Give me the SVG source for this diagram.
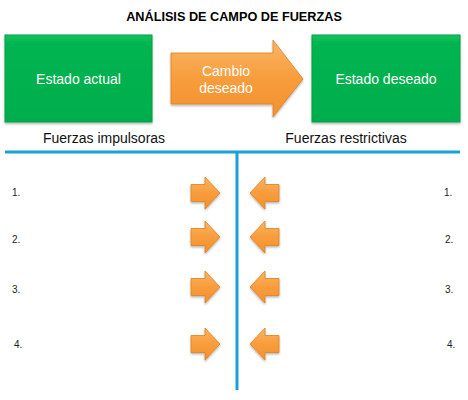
<svg xmlns="http://www.w3.org/2000/svg" width="468" height="400" viewBox="0 0 468 400">
<defs>
<style>
.t{font-family:"Liberation Sans",Arial,sans-serif}
.title{font-size:12.7px;font-weight:bold;fill:#000}
.box{fill:url(#g);stroke:#00a044;stroke-width:1}
.wt{font-size:14px;fill:#fff}
.lbl{font-size:14px;fill:#111}
.num{font-size:10px;fill:#222}
.ora{fill:url(#o);stroke:#e0801f;stroke-width:0.8}
.line{stroke:#1aa0d8;stroke-width:3;fill:none}
</style>
<linearGradient id="g" x1="0" y1="0" x2="0" y2="1">
<stop offset="0" stop-color="#14c45e"/>
<stop offset="0.1" stop-color="#00b550"/>
<stop offset="1" stop-color="#00ad4c"/>
</linearGradient>
<linearGradient id="o" x1="0" y1="0" x2="0" y2="1">
<stop offset="0" stop-color="#fbb565"/>
<stop offset="0.5" stop-color="#f89d3c"/>
<stop offset="1" stop-color="#f2902e"/>
</linearGradient>
<filter id="sh" x="-10%" y="-10%" width="120%" height="130%">
<feDropShadow dx="0" dy="1.5" stdDeviation="1.2" flood-color="#000" flood-opacity="0.3"/>
</filter>
<path id="sa" d="M-14,-8.5 H0 V-16 L15,0 L0,16 V8.5 H-14 Z"/>
</defs>
<rect width="468" height="400" fill="#fff"/>
<text class="t title" x="234" y="21" text-anchor="middle">ANÁLISIS DE CAMPO DE FUERZAS</text>
<g id="estado-actual">
<rect class="box" x="5" y="35" width="147" height="87" filter="url(#sh)"/>
<text class="t wt" x="78.5" y="84" text-anchor="middle">Estado actual</text>
</g>
<g id="cambio-deseado">
<path class="ora" d="M171,53 H273 V40 L303,79 L273,117 V104 H171 Z" filter="url(#sh)"/>
<text class="t wt" x="226" y="76" text-anchor="middle">Cambio</text>
<text class="t wt" x="226" y="93" text-anchor="middle">deseado</text>
</g>
<g id="estado-deseado">
<rect class="box" x="312" y="35" width="148" height="87" filter="url(#sh)"/>
<text class="t wt" x="386" y="84" text-anchor="middle">Estado deseado</text>
</g>
<text class="t lbl" x="104" y="143" text-anchor="middle">Fuerzas impulsoras</text>
<text class="t lbl" x="346" y="143" text-anchor="middle">Fuerzas restrictivas</text>
<g id="connectors">
<line class="line" x1="5" y1="152" x2="460" y2="152"/>
<line class="line" x1="237" y1="152" x2="237" y2="390"/>
</g>
<g id="impulsoras">
<use href="#sa" class="ora" transform="translate(205,193)" filter="url(#sh)"/>
<use href="#sa" class="ora" transform="translate(205,237)" filter="url(#sh)"/>
<use href="#sa" class="ora" transform="translate(205,287)" filter="url(#sh)"/>
<use href="#sa" class="ora" transform="translate(205,344)" filter="url(#sh)"/>
</g>
<g id="restrictivas">
<use href="#sa" class="ora" transform="translate(265,193) scale(-1,1)" filter="url(#sh)"/>
<use href="#sa" class="ora" transform="translate(265,237) scale(-1,1)" filter="url(#sh)"/>
<use href="#sa" class="ora" transform="translate(265,287) scale(-1,1)" filter="url(#sh)"/>
<use href="#sa" class="ora" transform="translate(265,344) scale(-1,1)" filter="url(#sh)"/>
</g>
<g id="numeros">
<text class="t num" x="12" y="196">1.</text>
<text class="t num" x="12" y="243">2.</text>
<text class="t num" x="12" y="293">3.</text>
<text class="t num" x="14" y="348">4.</text>
<text class="t num" x="444" y="196">1.</text>
<text class="t num" x="445" y="243">2.</text>
<text class="t num" x="445" y="293">3.</text>
<text class="t num" x="447" y="348">4.</text>
</g>
</svg>
